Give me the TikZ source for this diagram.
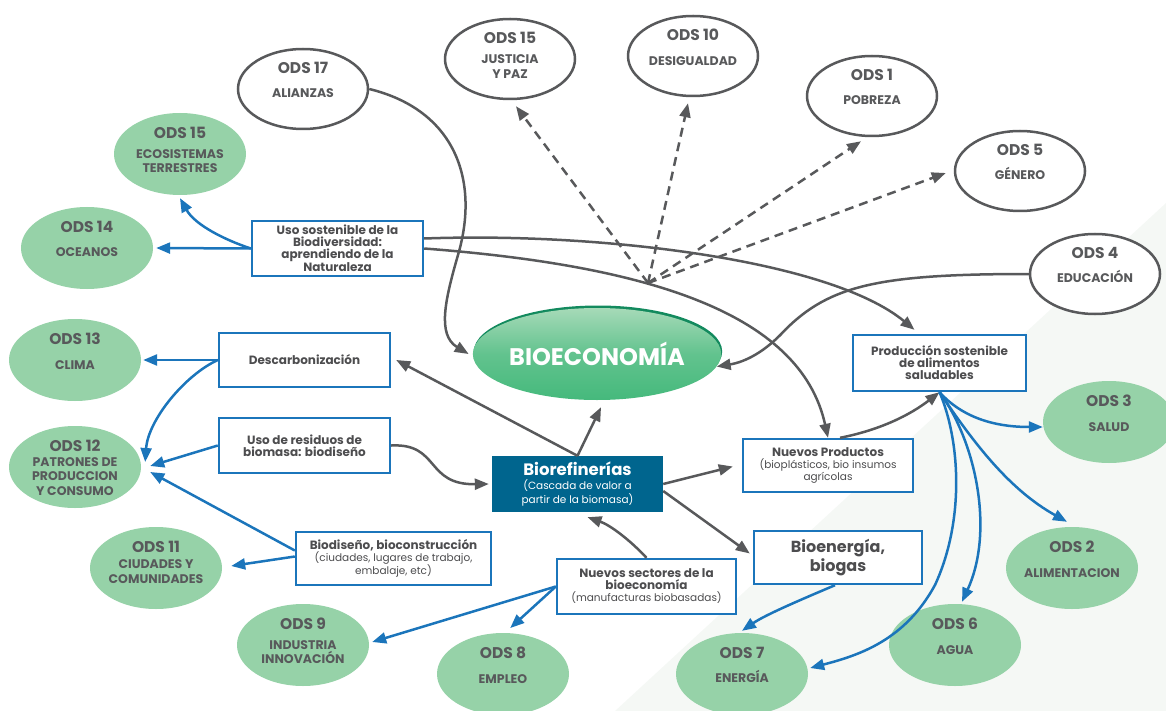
\documentclass[tikz,border=0pt]{standalone}
\usepackage{fontspec}
\setmainfont{Poppins}
\usetikzlibrary{shapes,arrows,arrows.meta,positioning,calc}

\definecolor{odsgray}{HTML}{58595B}
\definecolor{boxgray}{HTML}{4D4D4F}
\definecolor{odsgreen}{HTML}{96D2A8}
\definecolor{odsblue}{HTML}{1B75BB}
\definecolor{refiblue}{HTML}{00658E}
\definecolor{biolight}{HTML}{A6DAB8}
\definecolor{bioleaf}{HTML}{45B97C}
\definecolor{biorim}{HTML}{138A5E}
\definecolor{bgtint}{HTML}{F5F8F5}

% ODS label: number on top, name below
\newcommand{\odstext}[3][10pt]{\makebox[0pt]{\parbox[c][54pt][t]{150pt}{\centering
  \fontsize{15.5}{16}\selectfont\bfseries #2\par\vspace{#1}%
  \fontsize{12.5}{14.5}\selectfont #3\par}}}
\newcommand{\subfont}{\fontsize{10.5}{12}\selectfont\mdseries}

\begin{document}
\begin{tikzpicture}[x=1pt, y=-1pt,
    odswhite/.style={ellipse, draw=odsgray, line width=2.5pt, fill=white, text=odsgray,
      inner sep=0pt, minimum width=130pt, minimum height=80pt},
    odsfill/.style={ellipse, fill=odsgreen, text=odsgray,
      inner sep=0pt, minimum width=132pt, minimum height=82pt},
    goalbox/.style={rectangle, draw=odsblue, line width=2.4pt, fill=white, text=boxgray,
      align=center, inner sep=0pt, font=\bfseries\fontsize{12}{12}\selectfont},
    gline/.style={draw=odsgray, line width=2.5pt, -{Triangle[length=14pt,width=11pt]}},
    bline/.style={draw=odsblue, line width=2.5pt, -{Triangle[length=14pt,width=11pt]}},
    dline/.style={gline, dash pattern=on 9pt off 6pt}]

    \useasboundingbox (0,0) rectangle (1166,711);
    \fill[bgtint] (1166,203) -- (1166,711) -- (615,711) -- cycle;

    % ODS ellipses
    \node[odswhite] (ods17) at (303,89) {\odstext{ODS 17}{ALIANZAS}};
    \node[odswhite] (ods15j) at (510,59) {\odstext[6pt]{ODS 15}{JUSTICIA\\Y PAZ}};
    \node[odswhite] (ods10) at (693,56) {\odstext{ODS 10}{DESIGUALDAD}};
    \node[odswhite] (ods1) at (872,96) {\odstext{ODS 1}{POBREZA}};
    \node[odswhite] (ods5) at (1020,171) {\odstext{ODS 5}{GÉNERO}};
    \node[odswhite] (ods4) at (1095,274) {\odstext{ODS 4}{EDUCACIÓN}};

    \node[odsfill] (ods15e) at (180,154) {\odstext[5.5pt]{ODS 15}{ECOSISTEMAS\\TERRESTRES}};
    \node[odsfill] (ods14) at (87,248) {\odstext{ODS 14}{OCEANOS}};
    \node[odsfill] (ods13) at (75,360) {\odstext{ODS 13}{CLIMA}};
    \node[odsfill] (ods12) at (75,467) {\odstext[0pt]{ODS 12}{PATRONES DE\\PRODUCCION\\Y CONSUMO}};
    \node[odsfill] (ods11) at (156,568) {\odstext[2pt]{ODS 11}{CIUDADES Y\\COMUNIDADES}};
    \node[odsfill] (ods9) at (303,645) {\odstext[5pt]{ODS 9}{INDUSTRIA\\INNOVACIÓN}};
    \node[odsfill] (ods8) at (503,674) {\odstext{ODS 8}{EMPLEO}};
    \node[odsfill] (ods7) at (742,674) {\odstext{ODS 7}{ENERGÍA}};
    \node[odsfill] (ods6) at (955,645) {\odstext{ODS 6}{AGUA}};
    \node[odsfill] (ods2) at (1072,568) {\odstext{ODS 2}{ALIMENTACION}};
    \node[odsfill] (ods3) at (1109,422) {\odstext{ODS 3}{SALUD}};

    % centre
    \node[ellipse, minimum width=234pt, minimum height=92pt, inner sep=0pt,
      top color=biolight, bottom color=bioleaf, middle color=bioleaf!70!biolight,
      preaction={fill=biorim, transform canvas={xshift=1pt,yshift=2.5pt}},
      text=white, font=\bfseries\fontsize{24}{26}\selectfont] (bioeco) at (597,354) {BIOECONOMÍA};
    \node[rectangle, fill=refiblue, text=white, align=center, inner sep=0pt,
      minimum width=171pt, minimum height=56pt, font=\bfseries\fontsize{16.5}{14}\selectfont]
      (biore) at (577.5,484) {Biorefinerías\\\subfont(Cascada de valor a\\\subfont partir de la biomasa)};

    % boxes
    \node[goalbox, minimum width=171pt, minimum height=55pt] (uso) at (337.5,248.5)
      {Uso sostenible de la\\Biodiversidad:\\aprendiendo de la\\Naturaleza};
    \node[goalbox, minimum width=171pt, minimum height=54pt] (desc) at (304.5,360) {Descarbonización};
    \node[goalbox, minimum width=171pt, minimum height=55pt] (residuos) at (304.5,445.5)
      {Uso de residuos de\\biomasa: biodiseño};
    \node[goalbox, minimum width=195pt, minimum height=53pt] (biodis) at (393.5,558.5)
      {Biodiseño, bioconstrucción\\\subfont(ciudades, lugares de trabajo,\\\subfont embalaje, etc)};
    \node[goalbox, minimum width=179pt, minimum height=55pt] (sectores) at (646.5,586.5)
      {Nuevos sectores de la\\bioeconomía\\\subfont(manufacturas biobasadas)};
    \node[goalbox, minimum width=170pt, minimum height=53pt] (productos) at (828,465.5)
      {Nuevos Productos\\\subfont(bioplásticos, bio insumos\\\subfont agrícolas};
    \node[goalbox, minimum width=173pt, minimum height=56pt] (produccion) at (939.5,363)
      {Producción sostenible\\de alimentos\\saludables};
    \node[goalbox, minimum width=168pt, minimum height=53pt,
      font=\bfseries\fontsize{16}{17}\selectfont] (bioenergia) at (838,557.5) {Bioenergía,\\biogas};

    % dashed links
    \coordinate (hub) at (648,283);
    \draw[dline] (hub) -- ([xshift=6pt,yshift=-6pt]ods15j.south);
    \draw[dline] (hub) -- ([xshift=-5pt,yshift=-6pt]ods10.south);
    \draw[dline] (hub) -- ([xshift=-11pt,yshift=-4pt]ods1.south);
    \draw[dline] (hub) -- ([xshift=-8pt,yshift=-2pt]ods5.west);

    % grey links
    \draw[gline] (ods17.east) .. controls (455,110) and (480,180) .. (458,255)
      .. controls (445,300) and (437,335) .. ([xshift=-4pt]bioeco.west);
    \draw[gline] (ods4.west) .. controls (880,274) and (830,285) .. (785,330)
      .. controls (765,352) and (745,362) .. (bioeco.-6);
    \draw[gline] ([yshift=10pt]uso.east) .. controls (600,232) and (830,260) .. ([xshift=-25pt,yshift=4pt]produccion.north);
    \draw[gline] (uso.east) .. controls (640,265) and (800,310) .. (productos.north);
    \draw[gline] ([xshift=12pt]productos.north) .. controls (880,430) and (910,415) .. (produccion.south);
    \draw[gline] (biore.north) -- ([xshift=4pt,yshift=-7pt]bioeco.south);
    \draw[gline] (biore.north) -- ([xshift=5pt]desc.east);
    \draw[gline] (biore.east) -- ([xshift=-9pt,yshift=-1pt]productos.west);
    \draw[gline] ([yshift=-7pt]biore.east) -- ([xshift=-3pt,yshift=4pt]bioenergia.west);
    \draw[gline] (residuos.east) .. controls (440,443) and (425,485) .. ([xshift=-3pt]biore.west);
    \draw[gline] (sectores.north) .. controls (630,540) and (610,525) .. ([xshift=10pt,yshift=-5pt]biore.south);

    % blue links
    \draw[bline] (uso.west) -- ([xshift=3pt]ods14.east);
    \draw[bline] (uso.west) .. controls (225,240) and (195,225) .. ([yshift=-3pt]ods15e.south);
    \draw[bline] (desc.west) -- ([xshift=2pt]ods13.east);
    \draw[bline] (desc.west) .. controls (185,375) and (148,420) .. ([xshift=4pt,yshift=5pt]ods12.east);
    \draw[bline] (residuos.west) -- ([xshift=9pt,yshift=1pt]ods12.east);
    \draw[bline] ([yshift=8pt]biodis.west) -- ([xshift=9pt,yshift=-5pt]ods12.east);
    \draw[bline] ([yshift=2pt]biodis.west) -- ([xshift=9pt,yshift=2pt]ods11.east);
    \draw[bline] (sectores.west) -- ([xshift=3pt,yshift=3pt]ods9.east);
    \draw[bline] (sectores.west) -- ([yshift=5pt]ods8.80);
    \draw[bline] ([xshift=-3pt]bioenergia.south) .. controls (800,600) and (765,615) .. ([yshift=2pt]ods7.north);
    \draw[bline] (produccion.south) .. controls (960,415) and (990,427) .. ([yshift=-5pt]ods3.west);
    \draw[bline] (produccion.south) .. controls (975,445) and (1010,490) .. ([xshift=-5pt,yshift=5pt]ods2.north);
    \draw[bline] (produccion.south) .. controls (975,440) and (995,530) .. ([xshift=7pt,yshift=2pt]ods6.north);
    \draw[bline] (produccion.south) .. controls (960,440) and (965,520) .. (935,585)
      .. controls (905,640) and (860,655) .. ([xshift=2pt,yshift=6pt]ods7.east);
\end{tikzpicture}
\end{document}
